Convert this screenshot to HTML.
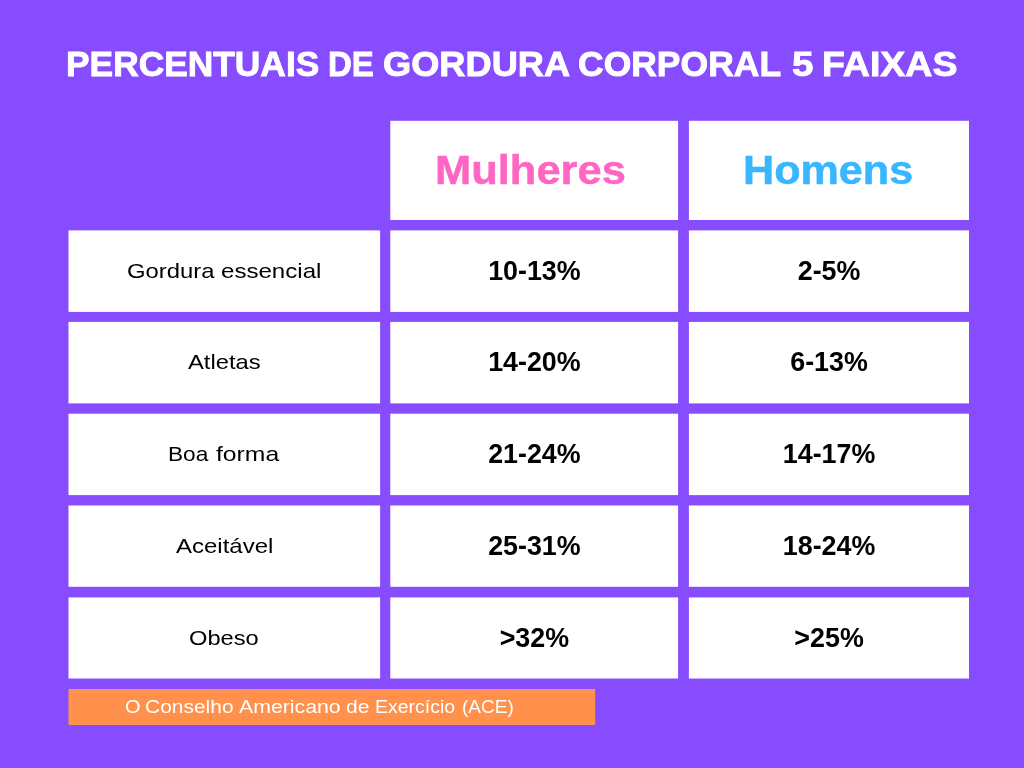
<!DOCTYPE html>
<html lang="pt-BR">
<head>
<meta charset="utf-8">
<title>Percentuais de gordura corporal 5 faixas</title>
<style>
  html, body { margin: 0; padding: 0; }
  body {
    width: 1024px; height: 768px; overflow: hidden; position: relative;
    background: #864cfe;
    font-family: "Liberation Sans", sans-serif;
  }
  #bg { position: absolute; left: 0; top: 0; width: 1024px; height: 768px; display: block; }
  h1, p { margin: 0; padding: 0; font-size: inherit; font-weight: inherit; }
  .w {
    position: absolute; white-space: nowrap; line-height: 1; margin: 0; padding: 0;
    transform-origin: 0 0; display: block;
  }
  .title { color: #ffffff; font-weight: 700; -webkit-text-stroke: 0.9px #ffffff; }
  .hd { font-weight: 700; -webkit-text-stroke: 0.5px currentColor; }
  .pink { color: #ff66c4; }
  .blue { color: #38b6ff; }
  .lab { color: #000000; font-weight: 400; }
  .foot { color: #ffffff; font-weight: 400; }
  .num {
    position: absolute; white-space: nowrap; line-height: 1; color: #000000;
    font-weight: 700; font-size: 26.85px; transform: translateX(-50%);
  }
</style>
</head>
<body>
<svg id="bg" width="1024" height="768" viewBox="0 0 1024 768">
  <rect x="0" y="0" width="1024" height="768" fill="#864cfe"/>
  <g fill="#ffffff">
    <rect x="390.3" y="120.8" width="287.8" height="99.2"/>
    <rect x="688.9" y="120.8" width="280.1" height="99.2"/>
    <rect x="68.5" y="230.4" width="311.6" height="81.5"/>
    <rect x="390.3" y="230.4" width="287.8" height="81.5"/>
    <rect x="688.9" y="230.4" width="280.1" height="81.5"/>
    <rect x="68.5" y="321.9" width="311.6" height="81.5"/>
    <rect x="390.3" y="321.9" width="287.8" height="81.5"/>
    <rect x="688.9" y="321.9" width="280.1" height="81.5"/>
    <rect x="68.5" y="413.7" width="311.6" height="81.4"/>
    <rect x="390.3" y="413.7" width="287.8" height="81.4"/>
    <rect x="688.9" y="413.7" width="280.1" height="81.4"/>
    <rect x="68.5" y="505.5" width="311.6" height="81.3"/>
    <rect x="390.3" y="505.5" width="287.8" height="81.3"/>
    <rect x="688.9" y="505.5" width="280.1" height="81.3"/>
    <rect x="68.5" y="597.4" width="311.6" height="81.1"/>
    <rect x="390.3" y="597.4" width="287.8" height="81.1"/>
    <rect x="688.9" y="597.4" width="280.1" height="81.1"/>
  </g>
  <rect x="68.5" y="689" width="526.7" height="36" fill="#ff914d"/>
</svg>

<h1 class="title">
  <span class="w" style="left:65.99px;top:47.24px;font-size:35.87px;transform:scaleX(0.9854)">PERCENTUAIS</span> <span class="w" style="left:328.04px;top:47.24px;font-size:35.87px;transform:scaleX(0.9198)">DE</span> <span class="w" style="left:382.77px;top:47.24px;font-size:35.87px;transform:scaleX(1.0098)">GORDURA</span> <span class="w" style="left:577.79px;top:47.24px;font-size:35.87px;transform:scaleX(0.9896)">CORPORAL</span> <span class="w" style="left:791.89px;top:47.24px;font-size:35.87px;transform:scaleX(1.0814)">5</span> <span class="w" style="left:822.36px;top:47.24px;font-size:35.87px;transform:scaleX(1.0454)">FAIXAS</span>
</h1>

<div class="hd pink"><span class="w" style="left:434.58px;top:151.13px;font-size:39.89px;transform:scaleX(1.0905)">Mulheres</span></div>
<div class="hd blue"><span class="w" style="left:743.30px;top:151.13px;font-size:39.89px;transform:scaleX(1.0817)">Homens</span></div>

<div class="lab"><span class="w" style="left:126.68px;top:260.67px;font-size:20.95px;transform:scaleX(1.1382)">Gordura</span> <span class="w" style="left:221.15px;top:260.67px;font-size:20.95px;transform:scaleX(1.1501)">essencial</span></div>
<div class="lab"><span class="w" style="left:188.10px;top:352.07px;font-size:20.95px;transform:scaleX(1.1359)">Atletas</span></div>
<div class="lab"><span class="w" style="left:167.73px;top:443.87px;font-size:20.95px;transform:scaleX(1.0819)">Boa</span> <span class="w" style="left:215.60px;top:443.87px;font-size:20.95px;transform:scaleX(1.1792)">forma</span></div>
<div class="lab"><span class="w" style="left:176.10px;top:535.77px;font-size:20.95px;transform:scaleX(1.1457)">Aceitável</span></div>
<div class="lab"><span class="w" style="left:189.19px;top:627.77px;font-size:20.95px;transform:scaleX(1.1304)">Obeso</span></div>

<div class="num" style="left:534.40px;top:257.93px">10-13%</div>
<div class="num" style="left:534.40px;top:349.43px">14-20%</div>
<div class="num" style="left:534.40px;top:441.23px">21-24%</div>
<div class="num" style="left:534.40px;top:533.03px">25-31%</div>
<div class="num" style="left:534.40px;top:624.93px">&gt;32%</div>
<div class="num" style="left:829.05px;top:257.93px">2-5%</div>
<div class="num" style="left:829.05px;top:349.43px">6-13%</div>
<div class="num" style="left:829.05px;top:441.23px">14-17%</div>
<div class="num" style="left:829.05px;top:533.03px">18-24%</div>
<div class="num" style="left:829.05px;top:624.93px">&gt;25%</div>

<p class="foot">
  <span class="w" style="left:125.21px;top:698.09px;font-size:18.09px;transform:scaleX(1.1055)">O</span> <span class="w" style="left:144.62px;top:698.09px;font-size:18.09px;transform:scaleX(1.1596)">Conselho</span> <span class="w" style="left:239.00px;top:698.09px;font-size:18.09px;transform:scaleX(1.1768)">Americano</span> <span class="w" style="left:346.04px;top:698.09px;font-size:18.09px;transform:scaleX(1.1634)">de</span> <span class="w" style="left:374.88px;top:698.09px;font-size:18.09px;transform:scaleX(1.0782)">Exercício</span> <span class="w" style="left:462.01px;top:698.09px;font-size:18.09px;transform:scaleX(1.0513)">(ACE)</span>
</p>
</body>
</html>
